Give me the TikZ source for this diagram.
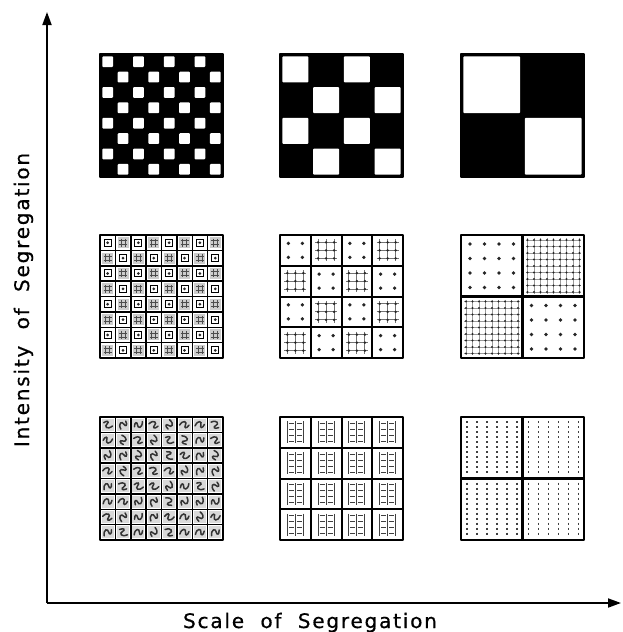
\documentclass[tikz,border=0pt]{standalone}
\usepackage{fontspec}
\newfontfamily\axisfont[LetterSpace=9,FakeBold=0.6]{DejaVu Sans}
\usetikzlibrary{arrows.meta,positioning}

\begin{document}
\begin{tikzpicture}[x=1pt, y=-1pt,
  panel/.style={draw, line width=2.5pt, line join=round},
  cellgrid/.style={line width=1.5pt},
  axis/.style={-{Triangle[length=13pt,width=9pt]}, line width=1.8pt},
  axislabel/.style={font=\axisfont\fontsize{20}{22}\selectfont, inner sep=0pt},
  speck/.style={fill=black!85},
  hatch/.style={line width=0.8pt, black!70}
]
\useasboundingbox (0,0) rectangle (622,632);

% axes
\coordinate (O) at (47,603);
\coordinate (xend) at (621,603);
\coordinate (yend) at (47,12);
\draw[axis] (O) -- (xend);
\draw[axis] (O) -- (yend);
\node[axislabel, anchor=base] (xlab) at (310,628) {Scale\ \ of\ \ Segregation};
\node[axislabel, rotate=90, anchor=base] (ylab) at (29,300) {Intensity\ \ of\ \ Segregation};

% top row: full intensity, three scales
\foreach \px/\n in {100/8, 280/4, 461/2} {
  \begin{scope}[shift={(\px,54)}]
    \pgfmathsetmacro\cw{123/\n}
    \fill (0,0) rectangle (123,123);
    \foreach \i in {1,...,\n} \foreach \j in {1,...,\n} {
      \pgfmathparse{int(mod(\i+\j,2))}
      \ifnum\pgfmathresult=0
        \fill[white, rounded corners=1pt] ({(\i-1)*\cw+2.3},{(\j-1)*\cw+2.3}) rectangle ({\i*\cw-2.3},{\j*\cw-2.3});
      \fi
    }
    \draw[panel] (0,0) rectangle (123,123);
  \end{scope}
}

% middle row, small scale
\begin{scope}[shift={(100,235)}]
  \pgfmathsetmacro\cw{123/8}
  \foreach \i in {1,...,8} \foreach \j in {1,...,8} {
    \pgfmathsetmacro\cx{(\i-0.5)*\cw}
    \pgfmathsetmacro\cy{(\j-0.5)*\cw}
    \pgfmathparse{int(mod(\i+\j,2))}
    \ifnum\pgfmathresult=0
      \draw[line width=1pt] (\cx-3.5,\cy-3.5) rectangle (\cx+3.5,\cy+3.5);
      \fill[speck] (\cx,\cy) circle (1.5);
    \else
      \fill[black!20] (\cx-5.5,\cy-5.5) rectangle (\cx+5.5,\cy+5.5);
      \draw[hatch] (\cx-4,\cy-2) -- (\cx+4,\cy-2) (\cx-4,\cy+2) -- (\cx+4,\cy+2)
                   (\cx-2,\cy-4) -- (\cx-2,\cy+4) (\cx+2,\cy-4) -- (\cx+2,\cy+4);
    \fi
  }
  \foreach \k in {1,...,7}
    \draw[cellgrid] (\k*\cw,0) -- (\k*\cw,123) (0,\k*\cw) -- (123,\k*\cw);
  \draw[panel] (0,0) rectangle (123,123);
\end{scope}

% middle row, medium scale
\begin{scope}[shift={(280,235)}]
  \pgfmathsetmacro\cw{123/4}
  \foreach \i in {1,...,4} \foreach \j in {1,...,4} {
    \pgfmathsetmacro\cx{(\i-0.5)*\cw}
    \pgfmathsetmacro\cy{(\j-0.5)*\cw}
    \pgfmathparse{int(mod(\i+\j,2))}
    \ifnum\pgfmathresult=0
      \foreach \dx/\dy in {-7/-7, 7/-7, -7/7, 7/7}
        \fill[speck] (\cx+\dx,\cy+\dy) circle (1.8);
    \else
      \foreach \d in {-8,0,8}
        \draw[hatch, black!55] (\cx+\d,\cy-11) -- (\cx+\d,\cy+11) (\cx-11,\cy+\d) -- (\cx+11,\cy+\d);
      \foreach \dx in {-8,0,8} \foreach \dy in {-8,0,8}
        \fill[speck] (\cx+\dx,\cy+\dy) circle (1.3);
    \fi
  }
  \foreach \k in {1,...,3}
    \draw[cellgrid, line width=2pt] (\k*\cw,0) -- (\k*\cw,123) (0,\k*\cw) -- (123,\k*\cw);
  \draw[panel] (0,0) rectangle (123,123);
\end{scope}

% middle row, large scale
\begin{scope}[shift={(461,235)}]
  \pgfmathsetmacro\cw{123/2}
  \foreach \i in {1,2} \foreach \j in {1,2} {
    \pgfmathsetmacro\ox{(\i-1)*\cw}
    \pgfmathsetmacro\oy{(\j-1)*\cw}
    \pgfmathparse{int(mod(\i+\j,2))}
    \ifnum\pgfmathresult=0
      \foreach \a in {0,...,3} \foreach \b in {0,...,3}
        \fill[speck] (\ox+9+\a*14.5,\oy+9+\b*14.5) circle (1.9);
    \else
      \foreach \a in {0,...,8} {
        \draw[hatch, black!40] (\ox+5+\a*6.5,\oy+3) -- (\ox+5+\a*6.5,\oy+\cw-3);
        \draw[hatch, black!40] (\ox+3,\oy+5+\a*6.5) -- (\ox+\cw-3,\oy+5+\a*6.5);
      }
      \foreach \a in {0,...,8} \foreach \b in {0,...,8}
        \fill[speck] (\ox+5+\a*6.5,\oy+5+\b*6.5) circle (1.1);
    \fi
  }
  \draw[cellgrid, line width=2.3pt] (\cw,0) -- (\cw,123) (0,\cw) -- (123,\cw);
  \draw[panel] (0,0) rectangle (123,123);
\end{scope}

% bottom row, small scale
\pgfmathsetseed{12}
\begin{scope}[shift={(100,417)}]
  \pgfmathsetmacro\cw{123/8}
  \foreach \i in {1,...,8} \foreach \j in {1,...,8} {
    \pgfmathsetmacro\cx{(\i-0.5)*\cw}
    \pgfmathsetmacro\cy{(\j-0.5)*\cw}
    \pgfmathsetmacro\rot{360*rnd}
    \fill[black!15] (\cx-6,\cy-6) rectangle (\cx+6,\cy+6);
    \draw[line width=1.5pt, black!80, line cap=round, shift={(\cx,\cy)}, rotate=\rot]
      (-4,3) .. controls (-4,-4) and (1,-4) .. (1,0) .. controls (1,3) and (4,3) .. (4,-2);
  }
  \foreach \k in {1,...,7}
    \draw[cellgrid] (\k*\cw,0) -- (\k*\cw,123) (0,\k*\cw) -- (123,\k*\cw);
  \draw[panel] (0,0) rectangle (123,123);
\end{scope}

% bottom row, medium scale
\begin{scope}[shift={(280,417)}]
  \pgfmathsetmacro\cw{123/4}
  \foreach \i in {1,...,4} \foreach \j in {1,...,4} {
    \pgfmathsetmacro\cx{(\i-0.5)*\cw}
    \pgfmathsetmacro\cy{(\j-0.5)*\cw}
    \foreach \d in {-8,0,8}
      \draw[hatch, black!75, line width=1.1pt] (\cx+\d,\cy-11) -- (\cx+\d,\cy+11);
    \foreach \dx in {-4,4} \foreach \dy in {-9,-3,3,9}
      \draw[hatch, black!75, line width=1.1pt] (\cx+\dx-2.5,\cy+\dy) -- (\cx+\dx+2.5,\cy+\dy);
  }
  \foreach \k in {1,...,3}
    \draw[cellgrid, line width=2pt] (\k*\cw,0) -- (\k*\cw,123) (0,\k*\cw) -- (123,\k*\cw);
  \draw[panel] (0,0) rectangle (123,123);
\end{scope}

% bottom row, large scale
\begin{scope}[shift={(461,417)}]
  \pgfmathsetmacro\cw{123/2}
  \foreach \i in {1,2} \foreach \j in {1,2} {
    \pgfmathsetmacro\ox{(\i-1)*\cw}
    \pgfmathsetmacro\oy{(\j-1)*\cw}
    \foreach \a in {0,...,5}
      \draw[black!75, line width=1.6pt, dash pattern=on 2pt off 3pt]
        (\ox+6+\a*10,\oy+4) -- (\ox+6+\a*10,\oy+\cw-4);
  }
  \draw[cellgrid, line width=2.3pt] (\cw,0) -- (\cw,123) (0,\cw) -- (123,\cw);
  \draw[panel] (0,0) rectangle (123,123);
\end{scope}
\end{tikzpicture}
\end{document}
